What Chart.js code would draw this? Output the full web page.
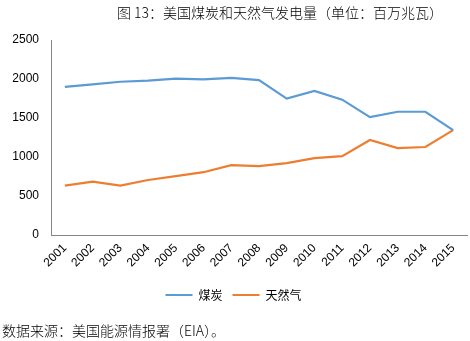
<!DOCTYPE html>
<html>
<head>
<meta charset="utf-8">
<script src="https://cdn.jsdelivr.net/npm/chart.js@4"></script>
<style>
  body { margin: 0; background: #fff; }
  #wrap { position: relative; width: 470px; height: 341px; }
  #chart { position: absolute; left: 0; top: 0; }
  .txt { position: absolute; font-family: "Noto Sans CJK SC", sans-serif; font-size: 14px; color: #000; white-space: nowrap; font-weight: 300; }
  #title { left: 117px; top: 2px; }
  #source { left: 2px; top: 320px; }
</style>
</head>
<body>
<div id="wrap">
  <canvas id="chart" width="470" height="341"></canvas>
  <div class="txt" id="title">图 13：美国煤炭和天然气发电量（单位：百万兆瓦）</div>
  <div class="txt" id="source">数据来源：美国能源情报署（EIA）。</div>
</div>
<script>
// years on the x axis
var years = ['2001','2002','2003','2004','2005','2006','2007','2008','2009','2010','2011','2012','2013','2014','2015'];

// coal and gas generation
var coal = [1900, 1930, 1965, 1980, 2005, 1995, 2015, 1985, 1748, 1847, 1735, 1512, 1580, 1580, 1345];
var gas  = [633, 685, 633, 705, 755, 805, 896, 883, 921, 986, 1010, 1218, 1115, 1128, 1345];

var yTicks = [0, 500, 1000, 1500, 2000, 2500];

var ctx = document.getElementById('chart').getContext('2d');
var chart = new Chart(ctx, {
    type: 'line',
    data: {
        labels: years,
        datasets: [{
            label: '煤炭',
            data: coal,
            borderColor: '#5b9bd5',
            backgroundColor: '#5b9bd5',
            borderWidth: 2.2,
            pointRadius: 0,
            tension: 0
        }, {
            label: '天然气',
            data: gas,
            borderColor: '#ed7d31',
            backgroundColor: '#ed7d31',
            borderWidth: 2.2,
            pointRadius: 0,
            tension: 0
        }]
    },
    options: {
        responsive: false,
        animation: false,
        layout: { padding: { left: 0, right: 3, top: 40, bottom: 30 } },
        plugins: {
            title: { display: false },
            tooltip: { enabled: false },
            legend: {
                position: 'bottom',
                labels: {
                    boxWidth: 27,
                    boxHeight: 2,
                    padding: 10,
                    color: '#404040',
                    font: { family: '"Noto Sans CJK SC", sans-serif', size: 12 },
                    generateLabels: function (c) {
                        return c.data.datasets.map(function (ds, i) {
                            return { text: ds.label, fillStyle: ds.borderColor, strokeStyle: ds.borderColor, lineWidth: 0, datasetIndex: i };
                        });
                    }
                }
            }
        },
        scales: {
            x: {
                offset: true,
                grid: { display: false, drawTicks: false },
                border: { display: true, color: '#868686', width: 1 },
                ticks: {
                    minRotation: 45,
                    maxRotation: 45,
                    padding: 6,
                    color: '#000',
                    font: { family: '"Liberation Sans", Arial, sans-serif', size: 12 }
                },
                afterFit: function (s) { s.height = 44; }
            },
            y: {
                min: 0,
                max: 2500,
                afterBuildTicks: function (s) { s.ticks = yTicks.map(function (v) { return { value: v }; }); },
                grid: { display: false, drawTicks: false },
                border: { display: true, color: '#868686', width: 1 },
                ticks: {
                    padding: 12,
                    color: '#000',
                    font: { family: '"Liberation Sans", Arial, sans-serif', size: 12 },
                    callback: function (v) { return String(v); }
                },
                afterFit: function (s) { s.width = 51; }
            }
        }
    }
});
</script>
</body>
</html>
